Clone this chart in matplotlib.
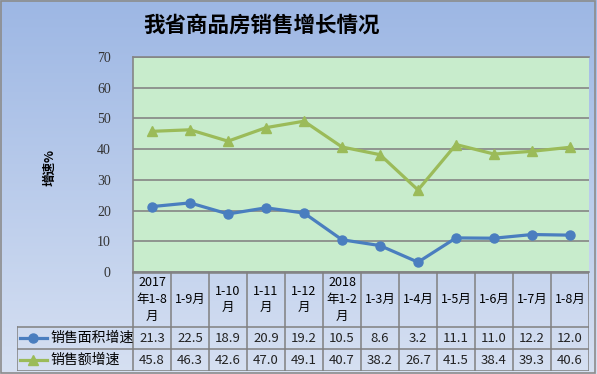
import matplotlib
matplotlib.use("Agg")
import matplotlib.pyplot as plt
import numpy as np

plt.rcParams['font.family'] = ['Noto Sans CJK SC', 'DejaVu Sans']

title = "我省商品房销售增长情况"
categories = ["2017\n年1-8\n月", "1-9月", "1-10\n月", "1-11\n月", "1-12\n月",
              "2018\n年1-2\n月", "1-3月", "1-4月", "1-5月", "1-6月", "1-7月", "1-8月"]
area_growth = [21.3, 22.5, 18.9, 20.9, 19.2, 10.5, 8.6, 3.2, 11.1, 11.0, 12.2, 12.0]
sales_growth = [45.8, 46.3, 42.6, 47.0, 49.1, 40.7, 38.2, 26.7, 41.5, 38.4, 39.3, 40.6]
series_names = ["销售面积增速", "销售额增速"]
ylabel = "增速%"
yticks = [0, 10, 20, 30, 40, 50, 60, 70]

W, H = 597, 374
fig = plt.figure(figsize=(W / 100, H / 100), dpi=100)

# background gradient
bg = fig.add_axes([0, 0, 1, 1])
top = np.array([157, 183, 228]) / 255
bot = np.array([214, 224, 242]) / 255
t = np.linspace(0, 1, 256)[:, None]
grad = top[None, :] * (1 - t) + bot[None, :] * t
bg.imshow(grad[:, None, :], aspect='auto', extent=[0, 1, 0, 1])
bg.set_xlim(0, 1); bg.set_ylim(0, 1)
bg.axis('off')
bg.add_patch(plt.Rectangle((0.002, 0.003), 0.995, 0.994, fill=False,
                           edgecolor='#8C8C8C', lw=1.2, transform=bg.transAxes))

def px(x0, y0, x1, y1):
    return [x0 / W, (H - y1) / H, (x1 - x0) / W, (y1 - y0) / H]

blue = '#4A7EBF'
green = '#9BBB59'
gridc = '#858585'

ax = fig.add_axes(px(133, 57, 589, 272))
ax.set_facecolor('#C8ECCC')
x = np.arange(len(categories))
ax.plot(x, sales_growth, color=green, lw=2.3, marker='^', ms=7.5, zorder=3)
ax.plot(x, area_growth, color=blue, lw=2.3, marker='o', ms=6.5, zorder=3)
ax.set_xlim(-0.5, len(categories) - 0.5)
ax.set_ylim(0, 70)
ax.set_yticks(yticks)
ax.set_yticklabels([str(v) for v in yticks], family='Liberation Serif',
                   fontsize=10, color='#333333')
ax.tick_params(axis='y', length=0, pad=16)
ax.set_xticks([])
ax.yaxis.grid(True, color=gridc, lw=1.2)
ax.set_axisbelow(True)
for s in ax.spines.values():
    s.set_color(gridc)
    s.set_linewidth(1.2)
ax.spines['right'].set_visible(False)

fig.text(50 / W, 1 - 168 / H, ylabel, rotation=90, ha='center', va='center',
         fontsize=9, fontweight='bold', color='black')
fig.text(262 / W, 1 - 25 / H, title, ha='center', va='center',
         fontsize=15.5, fontweight='bold', color='black')

# table
tx0, tx1 = 17, 589
ty0, ty1 = 272, 371
ncol = len(categories)
colw = (589 - 133) / ncol
left_units = (133 - 17) / colw
tab = fig.add_axes(px(tx0, ty0, tx1, ty1))
tab.set_xlim(-0.5 - left_units, ncol - 0.5)
tab.set_ylim(ty1 - ty0, 0)
tab.axis('off')
lc = '#808080'
lw = 1.1
h_hdr = 327 - 272
h_r1 = 349 - 272
h_end = ty1 - ty0
xl = -0.5 - left_units + 0.01
xr = ncol - 0.5
tab.plot([-0.5, xr], [0.5, 0.5], color=lc, lw=lw)
for yy in [h_hdr, h_r1, h_end - 0.5]:
    tab.plot([xl, xr], [yy, yy], color=lc, lw=lw)
for i in range(ncol + 1):
    tab.plot([i - 0.5, i - 0.5], [0.5, h_end - 0.5], color=lc, lw=lw)
tab.plot([xl, xl], [h_hdr, h_end - 0.5], color=lc, lw=lw)

for i, c in enumerate(categories):
    tab.text(i, h_hdr / 2, c, ha='center', va='center', fontsize=9,
             linespacing=1.35, color='black')
    tab.text(i, (h_hdr + h_r1) / 2, f"{area_growth[i]:.1f}", ha='center',
             va='center', fontsize=9.5, color='#222222')
    tab.text(i, (h_r1 + h_end) / 2, f"{sales_growth[i]:.1f}", ha='center',
             va='center', fontsize=9.5, color='#222222')

def u(pxx):
    return -0.5 - left_units + (pxx - 17) / colw
for yy, col, mk, ms, name in [((h_hdr + h_r1) / 2, blue, 'o', 6.5, series_names[0]),
                              ((h_r1 + h_end) / 2, green, '^', 7.5, series_names[1])]:
    tab.plot([u(20), u(47)], [yy, yy], color=col, lw=2.3)
    tab.plot([u(33.5)], [yy], color=col, marker=mk, ms=ms)
    tab.text(u(50), yy, name, ha='left', va='center', fontsize=10, color='black')

fig.savefig('out.png', dpi=100)
